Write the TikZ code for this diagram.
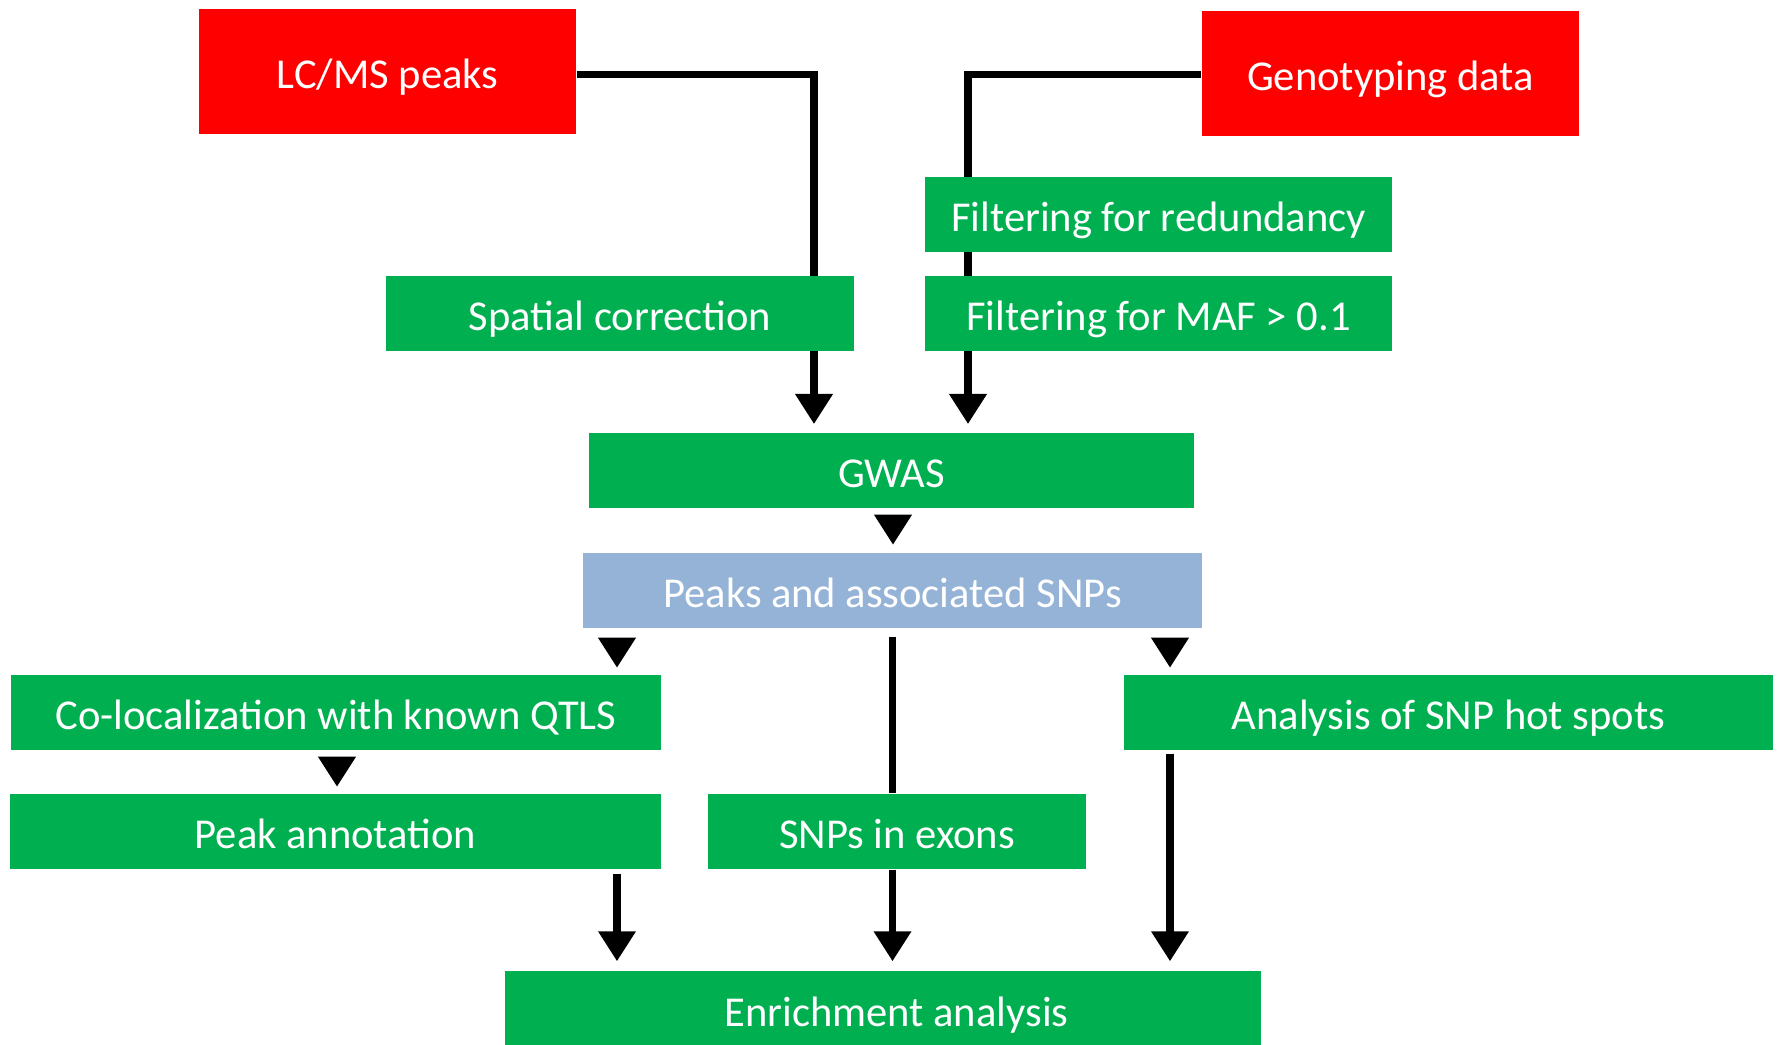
\documentclass[tikz,border=0pt]{standalone}
\usepackage{fontspec}
\setmainfont{Carlito}
\usetikzlibrary{calc,arrows.meta,backgrounds}
\definecolor{boxgreen}{HTML}{00B050}
\definecolor{boxred}{HTML}{FF0000}
\definecolor{boxblue}{HTML}{95B3D7}

\begin{document}
\begin{tikzpicture}[x=0.01cm,y=-0.01cm,
  box/.style={fill=boxgreen,text=white,minimum height=0.75cm,inner sep=0pt,
    text height=0.344cm,text depth=0pt,font=\fontsize{12.1}{14}\selectfont},
  src/.style={box,fill=boxred,minimum height=1.25cm,minimum width=3.77cm},
  arr/.style={line width=2pt,-{Triangle[width=0.36cm,length=0.3cm]}},
  link/.style={line width=2pt}]
\useasboundingbox (0,0) rectangle (1781,1045);
%inputs
\node[src] (lcms) at (387.5,71.5) {LC/MS peaks};
\node[src] (geno) at (1390.5,73.5) {Genotyping data};
\node[box,minimum width=4.67cm] (redund) at (1158.5,214.5) {Filtering for redundancy};
\node[box,minimum width=4.67cm] (maf) at (1158.5,313.5) {Filtering for MAF > 0.1};
\node[box,minimum width=4.68cm] (spatial) at (620,313.5) {Spatial correction};
\node[box,minimum width=6.05cm] (gwas) at (891.5,470.5) {GWAS};
\node[box,fill=boxblue,minimum width=6.19cm] (peaks) at (892.5,590.5) {Peaks and associated SNPs};
\node[box,minimum width=6.5cm] (coloc) at (336,712.5) {Co-localization with known QTLS};
\node[box,minimum width=6.49cm] (hot) at (1448.5,712.5) {Analysis of SNP hot spots};
\node[box,minimum width=6.51cm] (annot) at (335.5,831.5) {Peak annotation};
\node[box,minimum width=3.78cm] (exons) at (897,831.5) {SNPs in exons};
\node[box,minimum width=7.56cm,minimum height=0.76cm] (enrich) at (883,1009) {\hspace*{0.27cm}Enrichment analysis};
\coordinate (inL) at (814,424);
\coordinate (inR) at (968,424);
\begin{scope}[on background layer]
\draw[arr] ($(lcms.east)+(0,3)$) -| (inL);
\draw[arr] ($(geno.west)+(0,1)$) -| (inR);
\end{scope}
\draw[arr] ($(gwas.south)+(1.5,7)$) -- ++(0,29);
\draw[arr] ($(peaks.south)+(-275.5,10)$) -- ++(0,29);
\draw[arr] ($(peaks.south)+(277.5,10)$) -- ++(0,29);
\draw[link] ($(peaks.south)+(0,8)$) -- (peaks.south |- exons.north);
\draw[arr] ($(coloc.south)+(1,9)$) -- ++(0,27);
\draw[arr] ($(annot.south)+(281.5,4)$) -- ($(enrich.north)+(-266,-9)$);
\draw[arr] (exons.south -| peaks.south) -- ($(enrich.north -| peaks.south)+(0,-9)$);
\draw[arr] ($(hot.south)+(-278.5,3)$) -- ($(enrich.north)+(287,-9)$);
\end{tikzpicture}
\end{document}
